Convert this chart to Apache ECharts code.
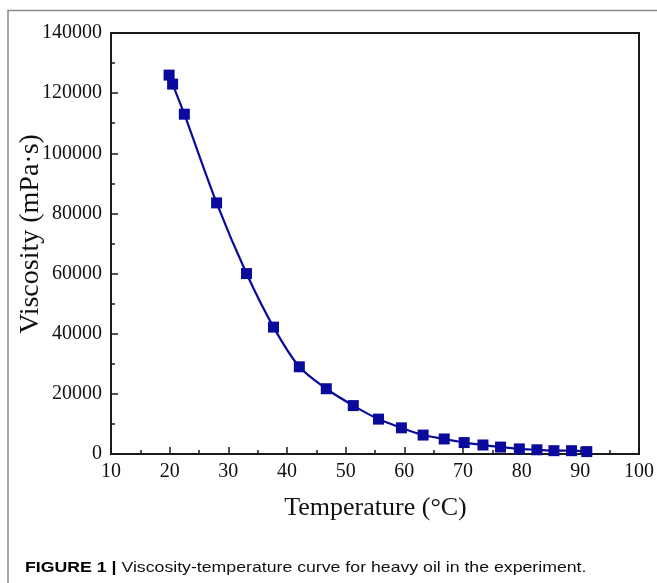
<!DOCTYPE html>
<html>
<head>
<meta charset="utf-8">
<script src="https://cdn.jsdelivr.net/npm/echarts@6/dist/echarts.min.js"></script>
<style>
html,body{margin:0;padding:0;background:#fff;}
#chart{width:657px;height:583px;}
</style>
</head>
<body>
<div id="chart"></div>
<script>
var temperatures = [19.9, 20.5, 22.5, 28.0, 33.1, 37.7, 42.1, 46.7, 51.3, 55.6, 59.5, 63.2, 66.8, 70.2, 73.4, 76.4, 79.6, 82.6, 85.5, 88.5, 91.1];
var viscosities = [126000, 123000, 113000, 83500, 60000, 42200, 29000, 21700, 16100, 11600, 8700, 6300, 5000, 3800, 3000, 2300, 1700, 1400, 1100, 1100, 800];
var xLabelText = 'Temperature (°C)';
var yLabelText = 'Viscosity (mPa·s)';
var captionBold = 'FIGURE 1 |';
var captionText = ' Viscosity-temperature curve for heavy oil in the experiment.';

var points = temperatures.map(function (t, i) { return [t, viscosities[i]]; });
var serif = '"Liberation Serif", "Times New Roman", serif';
var blue = '#0a0a9c';
var axisColor = '#1a1a1a';

var chart = echarts.init(document.getElementById('chart'), null, {renderer: 'canvas'});
chart.setOption({
  animation: false,
  backgroundColor: '#fff',
  grid: {left: 111, right: 17, top: 33, bottom: 129, show: true, borderColor: axisColor, borderWidth: 2, backgroundColor: 'transparent'},
  xAxis: {
    type: 'value', min: 10, max: 100, interval: 10,
    axisLine: {show: true, onZero: false, lineStyle: {color: axisColor, width: 2}},
    axisTick: {show: true, inside: true, length: 7, lineStyle: {color: axisColor, width: 1.5}},
    minorTick: {show: true, splitNumber: 2, length: 4, lineStyle: {color: axisColor, width: 1.5}},
    splitLine: {show: false},
    axisLabel: {color: '#111', fontFamily: serif, fontSize: 20, margin: 8}
  },
  yAxis: {
    type: 'value', min: 0, max: 140000, interval: 20000,
    axisLine: {show: true, onZero: false, lineStyle: {color: axisColor, width: 2}},
    axisTick: {show: true, inside: true, length: 7, lineStyle: {color: axisColor, width: 1.5}},
    minorTick: {show: true, splitNumber: 2, length: 4, lineStyle: {color: axisColor, width: 1.5}},
    splitLine: {show: false},
    axisLabel: {color: '#111', fontFamily: serif, fontSize: 20, margin: 9, formatter: function (v) { return String(v); }}
  },
  series: [{
    type: 'line',
    data: points,
    smooth: 0.3,
    symbol: 'rect',
    symbolSize: 11,
    lineStyle: {color: blue, width: 2.2},
    itemStyle: {color: blue},
    z: 3
  }],
  graphic: [
    {type: 'polyline', shape: {points: [[8, 583], [8, 10.5], [657, 10.5]]}, style: {stroke: '#8a8a8a', lineWidth: 1.5, fill: null}, silent: true},
    {type: 'text', x: 375.5, y: 508, style: {text: xLabelText, font: '26px ' + serif, fill: '#111', align: 'center', verticalAlign: 'middle'}},
    {type: 'text', x: 31, y: 234, rotation: Math.PI / 2, style: {text: yLabelText, font: '28px ' + serif, fill: '#111', align: 'center', verticalAlign: 'middle'}},
    {type: 'text', x: 25, y: 568, scaleX: 1.18, style: {
      text: '{b|' + captionBold + '}{r|' + captionText + '}',
      verticalAlign: 'middle',
      rich: {
        b: {fontFamily: '"Liberation Sans", Arial, sans-serif', fontWeight: 'bold', fontSize: 15, fill: '#000'},
        r: {fontFamily: '"Liberation Sans", Arial, sans-serif', fontSize: 15, fill: '#111'}
      }
    }}
  ]
});
</script>
</body>
</html>
